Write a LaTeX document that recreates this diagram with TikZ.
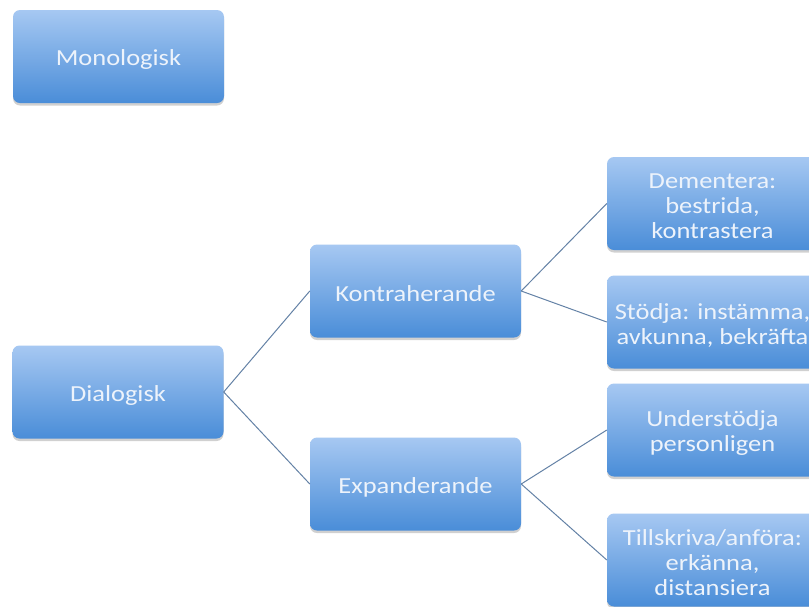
\documentclass[tikz,border=0pt]{standalone}
\usepackage{fontspec}
\setmainfont{Carlito}[FakeStretch=1.15]
\usetikzlibrary{shadows}
\definecolor{boxtop}{HTML}{A6C8F2}
\definecolor{boxbot}{HTML}{4A8DD8}
\definecolor{txt}{HTML}{EDF3FB}
\definecolor{link}{HTML}{6482A6}
\tikzset{
  box/.style={draw=none, rounded corners=7pt, minimum width=211pt, minimum height=93pt,
    top color=boxtop, bottom color=boxbot,
    drop shadow={shadow xshift=0pt, shadow yshift=-2.5pt, opacity=0.3, fill=black!60}},
  lbl/.style={text=txt, align=center, inner sep=0pt, font=\fontsize{23}{25}\selectfont},
  link/.style={draw=link, line width=1pt}
}
\newcommand{\diabox}[3]{%
  \node[box] (#1) at (#2) {};
  \node[lbl] (#1-t) at ([yshift=-3pt]#1.center) {#3};}
\begin{document}
\begin{tikzpicture}[x=1pt,y=-1pt]
\useasboundingbox (0,0) rectangle (809,606);
\clip (0,0) rectangle (809,606);
\fill[white] (0,0) rectangle (809,606);
\diabox{mono}{118.5,56.5}{Monologisk}
\diabox{dial}{118,392}{Dialogisk}
\diabox{kon}{415.5,291}{Kontraherande}
\diabox{exp}{415.5,484}{Expanderande}
\diabox{dem}{712.5,203.5}{Dementera:\\bestrida,\\kontrastera}
\diabox{sto}{712.5,322}{Stödja: instämma,\\avkunna, bekräfta}
\diabox{und}{712.5,430}{Understödja\\personligen}
\diabox{til}{712.5,560}{Tillskriva/anföra:\\erkänna,\\distansiera}
\draw[link] (dial.east) -- (kon.west);
\draw[link] (dial.east) -- (exp.west);
\draw[link] (kon.east) -- (dem.west);
\draw[link] (kon.east) -- (sto.west);
\draw[link] (exp.east) -- (und.west);
\draw[link] (exp.east) -- (til.west);
\end{tikzpicture}
\end{document}
